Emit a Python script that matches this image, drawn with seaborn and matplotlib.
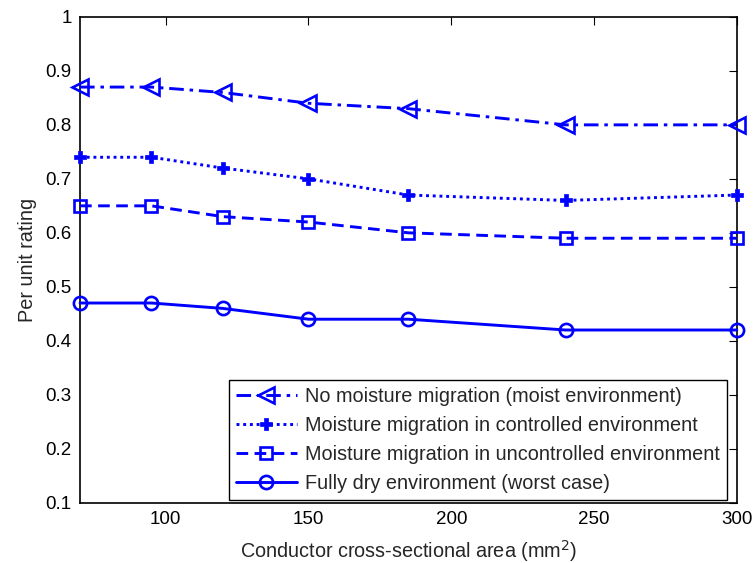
import matplotlib
matplotlib.use("Agg")
import matplotlib.pyplot as plt
import seaborn as sns
import pandas as pd

area = [70, 95, 120, 150, 185, 240, 300]
no_migration = [0.87, 0.87, 0.86, 0.84, 0.83, 0.80, 0.80]
controlled = [0.74, 0.74, 0.72, 0.70, 0.67, 0.66, 0.67]
uncontrolled = [0.65, 0.65, 0.63, 0.62, 0.60, 0.59, 0.59]
dry = [0.47, 0.47, 0.46, 0.44, 0.44, 0.42, 0.42]
labels = [
    "No moisture migration (moist environment)",
    "Moisture migration in controlled environment",
    "Moisture migration in uncontrolled environment",
    "Fully dry environment (worst case)",
]
x_ticks = [100, 150, 200, 250, 300]
y_ticks = [0.1, 0.2, 0.3, 0.4, 0.5, 0.6, 0.7, 0.8, 0.9, 1]
y_ticklabels = ["0.1", "0.2", "0.3", "0.4", "0.5", "0.6", "0.7", "0.8", "0.9", "1"]

sns.set_style("white")
plt.rcParams['font.family'] = ['Liberation Sans', 'DejaVu Sans']

fig = plt.figure(figsize=(7.55, 5.63), dpi=100)
ax = fig.add_axes([0.106, 0.107, 0.870, 0.863])

series = [no_migration, controlled, uncontrolled, dry]
styles = [
    dict(ls=(0, (5, 2, 1.2, 2)), marker="<", mfc="none", ms=12, mew=1.9),
    dict(ls=(0, (1, 1.3)), marker="P", mfc="blue", ms=8, mew=0.5),
    dict(ls=(0, (4, 2.2)), marker="s", mfc="none", ms=9, mew=1.9),
    dict(ls="-", marker="o", mfc="none", ms=9.5, mew=1.9),
]
for vals, lab, st in zip(series, labels, styles):
    df = pd.DataFrame({"area": area, "rating": vals})
    sns.lineplot(data=df, x="area", y="rating", ax=ax, color="blue",
                 linewidth=2.1, label=lab, linestyle=st["ls"],
                 marker=st["marker"], markerfacecolor=st["mfc"],
                 markeredgecolor="blue", markersize=st["ms"],
                 markeredgewidth=st["mew"], clip_on=False, zorder=3)

ax.set_xlim(70, 300)
ax.set_ylim(0.1, 1)
ax.set_xticks(x_ticks)
ax.set_yticks(y_ticks)
ax.set_xticklabels([str(t) for t in x_ticks])
ax.set_yticklabels(y_ticklabels)
ax.tick_params(direction="in", length=6, width=0.8, top=True, right=True,
               labelsize=13.5, colors="black", pad=6)
for s in ax.spines.values():
    s.set_color("black")
    s.set_linewidth(1.2)
ax.set_xlabel("Conductor cross-sectional area (mm$^2$)", fontsize=14.3, labelpad=7)
ax.set_ylabel("Per unit rating", fontsize=14.3, labelpad=6)

leg = ax.legend(loc="lower right", bbox_to_anchor=(0.985, 0.006),
                fontsize=14.3, frameon=True, fancybox=False,
                edgecolor="black", framealpha=1, borderaxespad=0,
                handlelength=3.1, labelspacing=0.5, borderpad=0.35,
                handletextpad=0.4)
leg.get_frame().set_linewidth(1.0)

fig.savefig("out.png", dpi=100)
